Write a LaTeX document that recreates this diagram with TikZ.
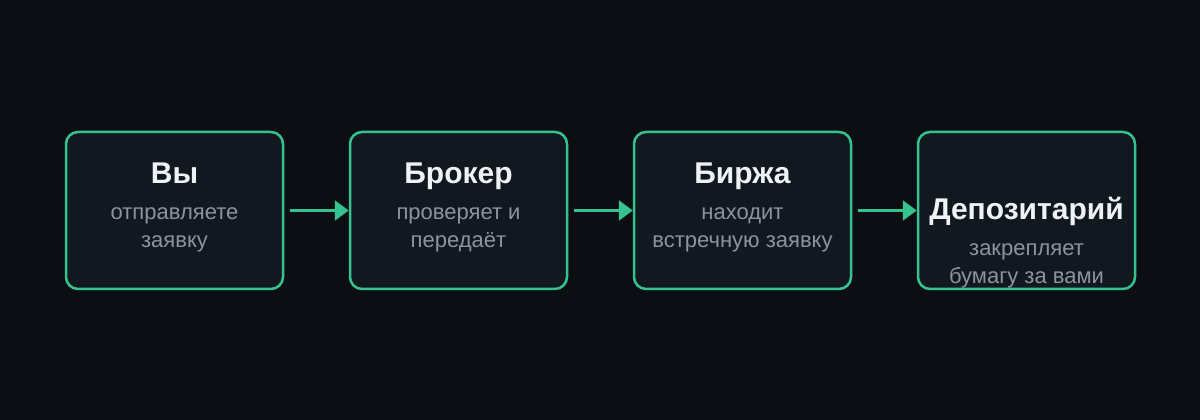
\documentclass[tikz,border=0pt]{standalone}
\usepackage{fontspec}
\setmainfont{Liberation Sans}
\usetikzlibrary{arrows.meta,positioning}
\definecolor{fondo}{HTML}{0B0E12}
\definecolor{caja}{HTML}{111820}
\definecolor{verde}{HTML}{35C28E}
\definecolor{blanco}{HTML}{F0F3F6}
\definecolor{gris}{HTML}{8B949E}
\begin{document}
\begin{tikzpicture}[x=1pt,y=1pt,
    paso/.style={draw=verde, line width=2.5pt, fill=caja, rounded corners=12pt,
      minimum width=217pt, minimum height=157pt, inner sep=0pt},
    titulo/.style={anchor=base, text=blanco, inner sep=0pt,
      font=\fontsize{30}{36}\selectfont\bfseries},
    texto/.style={anchor=base, text=gris, align=center, inner sep=0pt,
      font=\fontsize{22}{28}\selectfont},
    flecha/.style={draw=verde, line width=2.5pt,
      -{Triangle[length=14pt,width=20pt]}, shorten <=6pt}]

    % Fondo
    \fill[fondo] (0,0) rectangle (1200,420);
    \useasboundingbox (0,0) rectangle (1200,420);

    % Cajas
    \node[paso] (vy) at (174.5,209.5) {};
    \node[paso, right=64.5pt of vy] (broker) {};
    \node[paso, right=64.5pt of broker] (birzha) {};
    \node[paso, right=64.5pt of birzha] (depo) {};

    % Textos
    \node[titulo] (vyT) at ([yshift=27pt]vy.center) {Вы};
    \node[texto] (vyS) at ([yshift=-37pt]vy.center) {отправляете\\заявку};

    \node[titulo] (brokerT) at ([yshift=27pt]broker.center) {Брокер};
    \node[texto] (brokerS) at ([yshift=-37pt]broker.center) {проверяет и\\передаёт};

    \node[titulo] (birzhaT) at ([yshift=27pt]birzha.center) {Биржа};
    \node[texto] (birzhaS) at ([yshift=-37pt]birzha.center) {находит\\встречную заявку};

    \node[titulo] (depoT) at ([yshift=-9pt]depo.center) {Депозитарий};
    \node[texto] (depoS) at ([yshift=-73pt]depo.center) {закрепляет\\бумагу за вами};

    % Conexiones
    \draw[flecha] (vy) -- (broker);
    \draw[flecha] (broker) -- (birzha);
    \draw[flecha] (birzha) -- (depo);

\end{tikzpicture}
\end{document}
